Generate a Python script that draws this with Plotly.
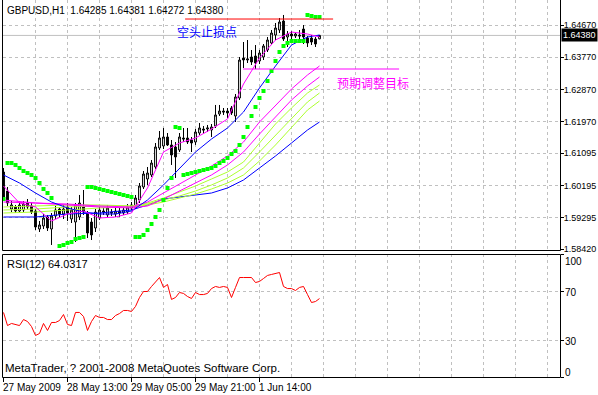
import plotly.graph_objects as go

W, H = 598, 395

def px_x(v):
    return v / W

def px_y(v):
    return 1 - v / H

# ---------------- data ----------------
symbol_title = "GBPUSD,H1"
header_ohlc = [1.64285, 1.64381, 1.64272, 1.64380]

bars = list(range(80))

open_ = [1.60569, 1.60039, 1.59537, 1.59593, 1.59481, 1.59509, 1.59704, 1.59621, 1.59481, 1.58979,
         1.59063, 1.59314, 1.58979, 1.59342, 1.59537, 1.59397, 1.59593, 1.59258, 1.59174, 1.59314,
         1.59593, 1.59425, 1.59174, 1.59007, 1.59286, 1.59481, 1.59370, 1.59453, 1.59397, 1.59481,
         1.59425, 1.59453, 1.59565, 1.59593, 1.59788, 1.60151, 1.60374, 1.60486, 1.60709, 1.61239,
         1.61295, 1.61546, 1.61323, 1.61267, 1.61183, 1.61518, 1.61518, 1.61462, 1.61406, 1.61657,
         1.61769, 1.61769, 1.61741, 1.61853, 1.62187, 1.62271, 1.62271, 1.62355, 1.62132, 1.62634,
         1.63750, 1.63694, 1.63778, 1.63806, 1.63666, 1.63778, 1.63973, 1.64168, 1.64391, 1.64531,
         1.64782, 1.64336, 1.64419, 1.64364, 1.64391, 1.64559, 1.64308, 1.64308, 1.64280, 1.64285]
high = [1.60681, 1.60151, 1.59760, 1.59649, 1.59704, 1.59760, 1.59816, 1.59704, 1.59537, 1.59202,
        1.59397, 1.59370, 1.59425, 1.59621, 1.59593, 1.59649, 1.59704, 1.59593, 1.59704, 1.59928,
        1.60067, 1.59481, 1.59286, 1.59537, 1.59593, 1.59565, 1.59649, 1.59537, 1.59565, 1.59565,
        1.59593, 1.59676, 1.59732, 1.59928, 1.60262, 1.60597, 1.60709, 1.60904, 1.61378, 1.61713,
        1.61797, 1.61657, 1.61462, 1.61406, 1.61657, 1.61797, 1.61797, 1.61546, 1.61769, 1.61936,
        1.61853, 1.61881, 1.61908, 1.62439, 1.62439, 1.62355, 1.62355, 1.62411, 1.62745, 1.63778,
        1.64196, 1.64252, 1.63973, 1.64112, 1.63973, 1.64140, 1.64336, 1.64531, 1.64726, 1.64866,
        1.64950, 1.64503, 1.64503, 1.64475, 1.64531, 1.64670, 1.64364, 1.64391, 1.64336, 1.64381]
low = [1.59788, 1.59621, 1.59453, 1.59425, 1.59425, 1.59453, 1.59537, 1.59397, 1.58951, 1.58895,
       1.58979, 1.58923, 1.58533, 1.59258, 1.59286, 1.59258, 1.59202, 1.59146, 1.58616, 1.59230,
       1.59370, 1.58728, 1.58672, 1.58895, 1.59230, 1.59370, 1.59314, 1.59342, 1.59314, 1.59314,
       1.59370, 1.59397, 1.59509, 1.59537, 1.59704, 1.60095, 1.60207, 1.60430, 1.60653, 1.61183,
       1.61211, 1.61295, 1.60765, 1.60402, 1.61127, 1.61406, 1.61350, 1.61127, 1.61323, 1.61602,
       1.61657, 1.61685, 1.61546, 1.61797, 1.62132, 1.62160, 1.62076, 1.62160, 1.61964, 1.62578,
       1.63471, 1.63610, 1.63554, 1.63443, 1.63582, 1.63694, 1.63917, 1.64112, 1.64252, 1.64447,
       1.64224, 1.64057, 1.64280, 1.64308, 1.64280, 1.64140, 1.64057, 1.64112, 1.64057, 1.64272]
close = [1.59872, 1.59704, 1.59649, 1.59481, 1.59649, 1.59676, 1.59593, 1.59453, 1.59035, 1.59091,
         1.59286, 1.59007, 1.59342, 1.59509, 1.59397, 1.59537, 1.59425, 1.59509, 1.59649, 1.59704,
         1.59453, 1.58867, 1.58812, 1.59453, 1.59509, 1.59453, 1.59565, 1.59425, 1.59481, 1.59425,
         1.59509, 1.59593, 1.59649, 1.59844, 1.60179, 1.60513, 1.60541, 1.60820, 1.61267, 1.61518,
         1.61546, 1.61323, 1.61044, 1.60988, 1.61546, 1.61490, 1.61406, 1.61378, 1.61685, 1.61797,
         1.61741, 1.61797, 1.61825, 1.62160, 1.62271, 1.62243, 1.62215, 1.62215, 1.62662, 1.63694,
         1.63694, 1.63722, 1.63638, 1.63610, 1.63889, 1.64085, 1.64252, 1.64447, 1.64587, 1.64754,
         1.64280, 1.64419, 1.64364, 1.64419, 1.64364, 1.64336, 1.64168, 1.64196, 1.64140, 1.64380]

ma_bars = [0, 4, 8, 12, 16, 20, 24, 28, 32, 36, 40, 44, 48, 52, 56, 60, 64, 68, 72, 76, 79]
ma_fast = [1.60179, 1.59704, 1.59593, 1.59202, 1.59397, 1.59481, 1.59286, 1.59314, 1.59425, 1.60123,
           1.61127, 1.61378, 1.61518, 1.61769, 1.62048, 1.63024, 1.63750, 1.64252, 1.64475, 1.64419, 1.64336]
ma_mid = [1.60486, 1.60262, 1.59983, 1.59732, 1.59565, 1.59453, 1.59397, 1.59397, 1.59481, 1.59788,
          1.60207, 1.60681, 1.61127, 1.61490, 1.61797, 1.62243, 1.62913, 1.63527, 1.64112, 1.64336, 1.64391]

fan_bars = [0, 8, 16, 24, 32, 36, 40, 44, 48, 52, 56, 60, 64, 68, 72, 76, 79]
fan_magenta_1 = [1.59788, 1.59704, 1.59676, 1.59621, 1.59593, 1.59732, 1.59983, 1.60234, 1.60486,
                 1.60737, 1.61016, 1.61406, 1.61964, 1.62439, 1.62885, 1.63276, 1.63527]
fan_magenta_2 = [1.59732, 1.59704, 1.59649, 1.59593, 1.59565, 1.59621, 1.59816, 1.60039, 1.60262,
                 1.60486, 1.60765, 1.61127, 1.61629, 1.62104, 1.62578, 1.62969, 1.63220]
fan_yellow_1 = [1.59593, 1.59621, 1.59649, 1.59649, 1.59621, 1.59704, 1.59844, 1.60011, 1.60179,
                1.60374, 1.60569, 1.60848, 1.61378, 1.61908, 1.62355, 1.62773, 1.62997]
fan_yellow_2 = [1.59509, 1.59537, 1.59593, 1.59621, 1.59621, 1.59676, 1.59788, 1.59900, 1.60039,
                1.60207, 1.60402, 1.60681, 1.61127, 1.61602, 1.62076, 1.62522, 1.62773]
fan_yellow_3 = [1.59425, 1.59453, 1.59509, 1.59565, 1.59593, 1.59649, 1.59732, 1.59844, 1.59955,
                1.60095, 1.60262, 1.60486, 1.60876, 1.61323, 1.61825, 1.62299, 1.62550]
fan_blue = [1.59314, 1.59314, 1.59397, 1.59425, 1.59509, 1.59649, 1.59816, 1.59872, 1.59928,
            1.59983, 1.60123, 1.60346, 1.60681, 1.61016, 1.61378, 1.61741, 1.61964]

sar = [1.59816, 1.60820, 1.60820, 1.60765, 1.60681, 1.60597, 1.60541, 1.60486, 1.60402, 1.60262,
       1.60095, 1.59983, 1.59844, None, 1.58505, 1.58533, 1.58588, 1.58616, 1.58700, 1.58728,
       1.58756, 1.60151, 1.60151, 1.60123, 1.60095, 1.60067, 1.60039, 1.60011, 1.59983, 1.59955,
       1.59928, 1.59900, 1.59872, 1.58756, 1.58756, 1.58812, 1.58951, 1.59118, 1.59314, 1.59509,
       1.59788, 1.60123, 1.60402, 1.61825, 1.61797, 1.60486, 1.60513, 1.60541, 1.60569, 1.60597,
       1.60625, 1.60653, 1.60681, 1.60737, 1.60820, 1.60876, 1.60960, 1.61071, 1.61155, 1.61323,
       1.61546, 1.61825, 1.62132, 1.62383, 1.62634, 1.62829, 1.63108, 1.63387, 1.63666, 1.63917,
       1.64085, 1.64168, 1.64224, 1.64224, 1.64224, 1.64224, 1.64950, 1.64922, 1.64894, 1.64894]

rsi = [52.7, 42.0, 43.7, 42.9, 42.0, 46.9, 45.3, 41.2, 33.9, 35.5,
       43.7, 38.0, 44.5, 44.5, 46.1, 51.0, 42.9, 42.0, 52.7, 52.7,
       49.4, 38.0, 45.3, 50.2, 48.6, 48.6, 46.9, 46.9, 50.2, 51.8,
       54.3, 54.3, 53.5, 57.6, 64.9, 69.8, 69.8, 73.9, 78.0, 81.2,
       73.1, 75.5, 63.3, 64.9, 69.0, 68.2, 65.7, 64.1, 69.0, 67.3,
       67.3, 68.2, 72.2, 73.9, 73.1, 73.9, 73.1, 64.9, 73.1, 81.2,
       81.2, 81.2, 81.2, 77.1, 78.0, 80.4, 82.9, 83.7, 84.5, 85.3,
       73.9, 72.2, 72.2, 70.6, 73.1, 73.9, 67.3, 60.8, 61.6, 64.0317]
rsi_period = 12
rsi_last = 64.0317

price_ticks = [1.64670, 1.63770, 1.62870, 1.61970, 1.61095, 1.60195, 1.59295, 1.58420]
price_tick_text = ["1.64670", "1.63770", "1.62870", "1.61970", "1.61095", "1.60195", "1.59295", "1.58420"]
rsi_ticks = [0, 30, 70, 100]
time_tick_bars = [0, 16, 32, 48, 64]
time_tick_labels = ["27 May 2009", "28 May 13:00", "29 May 05:00", "29 May 21:00", "1 Jun 14:00"]
grid_bars = list(range(8, 140, 8))

stop_level = 1.64837
stop_from, stop_to = 45.4, 82.4
stop_text = "空头止损点"
target_level = 1.63443
target_from, target_to = 59.9, 98.9
target_text = "预期调整目标"
copyright_text = "MetaTrader, ? 2001-2008 MetaQuotes Software Corp."

# ---------------- styles ----------------
FONT = "Liberation Sans, Arial, sans-serif"
CJK = "Noto Sans CJK SC, sans-serif"
GRID = "#C0C0C0"
DASH = "3px,3px"
MAGENTA = "#FF00FF"
YGREEN = "#ADFF2F"
BLUE = "#0000FF"
X_RANGE = [-0.125, 139.125]
Y_RANGE = [1.58393, 1.65368]

fig = go.Figure()

fig.add_trace(go.Candlestick(
    x=bars, open=open_, high=high, low=low, close=close,
    increasing=dict(line=dict(color="black", width=1), fillcolor="white"),
    decreasing=dict(line=dict(color="black", width=1), fillcolor="black"),
    whiskerwidth=0, showlegend=False, hoverinfo="skip", xaxis="x", yaxis="y"))

for vals, col in [(fan_blue, BLUE), (fan_yellow_3, YGREEN), (fan_yellow_2, YGREEN),
                  (fan_yellow_1, YGREEN), (fan_magenta_2, MAGENTA), (fan_magenta_1, MAGENTA)]:
    fig.add_trace(go.Scatter(x=fan_bars, y=vals, mode="lines", line=dict(color=col, width=1),
                             showlegend=False, hoverinfo="skip", xaxis="x", yaxis="y"))

fig.add_trace(go.Scatter(x=ma_bars, y=ma_mid, mode="lines", line=dict(color=BLUE, width=1),
                         showlegend=False, hoverinfo="skip", xaxis="x", yaxis="y"))
fig.add_trace(go.Scatter(x=ma_bars, y=ma_fast, mode="lines", line=dict(color=MAGENTA, width=1),
                         showlegend=False, hoverinfo="skip", xaxis="x", yaxis="y"))

fig.add_trace(go.Scatter(x=bars, y=sar, mode="markers",
                         marker=dict(color="#00FF00", size=4, symbol="square", line=dict(width=0)),
                         showlegend=False, hoverinfo="skip", xaxis="x", yaxis="y"))

fig.add_trace(go.Scatter(x=bars, y=rsi, mode="lines", line=dict(color="#FF0000", width=1),
                         showlegend=False, hoverinfo="skip", xaxis="x2", yaxis="y2"))

axis_common = dict(showline=False, zeroline=False, gridcolor=GRID, griddash=DASH, gridwidth=1)

fig.update_layout(
    width=W, height=H, margin=dict(l=0, r=0, t=0, b=0, autoexpand=False),
    paper_bgcolor="white", plot_bgcolor="white",
    font=dict(family=FONT, size=10, color="black"),
    boxgap=0.35,
    xaxis=dict(domain=[px_x(3), px_x(560)], range=X_RANGE, anchor="y",
               tickvals=grid_bars, showticklabels=False, ticks="",
               showgrid=True, rangeslider=dict(visible=False), fixedrange=True, **axis_common),
    yaxis=dict(domain=[px_y(250), 1], range=Y_RANGE, anchor="x", side="right",
               tickvals=price_ticks, ticktext=price_tick_text, ticks="outside", ticklen=3,
               tickcolor="black", tickfont=dict(size=9, family=FONT), ticklabelstandoff=-2,
               showgrid=True, **axis_common),
    xaxis2=dict(domain=[px_x(3), px_x(560)], range=X_RANGE, anchor="y2",
                tickvals=grid_bars, showticklabels=False, ticks="", showgrid=True, **axis_common),
    yaxis2=dict(domain=[px_y(377), px_y(254)], range=[0, 100.4], anchor="x2", side="right",
                tickvals=rsi_ticks, showticklabels=False, ticks="outside", ticklen=3,
                tickcolor="black", showgrid=True, **axis_common),
)

shapes = []
shapes.append(dict(type="line", xref="x", yref="y", x0=X_RANGE[0], x1=X_RANGE[1],
                   y0=header_ohlc[3], y1=header_ohlc[3], line=dict(color=GRID, width=1), layer="below"))
shapes.append(dict(type="line", xref="x", yref="y", x0=stop_from, x1=stop_to,
                   y0=stop_level, y1=stop_level, line=dict(color="#FF0000", width=1)))
shapes.append(dict(type="line", xref="x", yref="y", x0=target_from, x1=target_to,
                   y0=target_level, y1=target_level, line=dict(color=MAGENTA, width=1)))
bl = dict(color="black", width=1)
shapes.append(dict(type="line", xref="paper", yref="paper", x0=px_x(2.5), x1=px_x(2.5),
                   y0=1, y1=px_y(250.5), line=bl))
shapes.append(dict(type="line", xref="paper", yref="paper", x0=px_x(560.5), x1=px_x(560.5),
                   y0=1, y1=px_y(250.5), line=bl))
shapes.append(dict(type="line", xref="paper", yref="paper", x0=px_x(2.5), x1=px_x(560.5),
                   y0=px_y(250.5), y1=px_y(250.5), line=bl))
shapes.append(dict(type="rect", xref="paper", yref="paper", x0=px_x(2.5), x1=px_x(560.5),
                   y0=px_y(377.5), y1=px_y(254.5), line=bl))
for b in time_tick_bars:
    shapes.append(dict(type="line", xref="x2", yref="paper", x0=b, x1=b,
                       y0=px_y(377.5), y1=px_y(382), line=bl))
fig.update_layout(shapes=shapes)

ann = []
header = symbol_title + "  " + " ".join(f"{v:.5f}" for v in header_ohlc)
ann.append(dict(text=header, xref="paper", yref="paper", x=px_x(5), y=px_y(10),
                xanchor="left", yanchor="middle", showarrow=False, font=dict(size=10)))
ann.append(dict(text=stop_text, xref="paper", yref="paper", x=px_x(175), y=px_y(32),
                xanchor="left", yanchor="middle", showarrow=False,
                font=dict(family=CJK, size=12, color=BLUE)))
ann.append(dict(text=target_text, xref="paper", yref="paper", x=px_x(335), y=px_y(82),
                xanchor="left", yanchor="middle", showarrow=False,
                font=dict(family=CJK, size=12, color=MAGENTA)))
ann.append(dict(text=f"{header_ohlc[3]:.5f}", xref="paper", yref="y", x=px_x(561),
                y=header_ohlc[3], xanchor="left", yanchor="middle", showarrow=False,
                bgcolor="black", borderpad=1, font=dict(size=9, color="white")))
ann.append(dict(text=f"RSI({rsi_period}) {rsi_last}", xref="paper", yref="paper", x=px_x(5),
                y=px_y(264), xanchor="left", yanchor="middle", showarrow=False, font=dict(size=11)))
ann.append(dict(text=copyright_text, xref="paper", yref="paper", x=px_x(3), y=px_y(368),
                xanchor="left", yanchor="middle", showarrow=False, font=dict(size=11.5)))
rsi_label_pos = {100: 261, 70: 292, 30: 341, 0: 372}
for v in [100, 70, 30, 0]:
    ann.append(dict(text=str(v), xref="paper", yref="paper", x=px_x(563), y=px_y(rsi_label_pos[v]),
                    xanchor="left", yanchor="middle", showarrow=False, font=dict(size=10)))
for b, lab in zip(time_tick_bars, time_tick_labels):
    ann.append(dict(text=lab, xref="x2", yref="paper", x=b, y=px_y(387),
                    xanchor="left", yanchor="middle", showarrow=False, font=dict(size=10),
                    xshift=-3))
fig.update_layout(annotations=ann)

fig.write_html("out.html", config={"displayModeBar": False},
               post_script="document.body.style.margin='0';document.body.style.padding='0';")
